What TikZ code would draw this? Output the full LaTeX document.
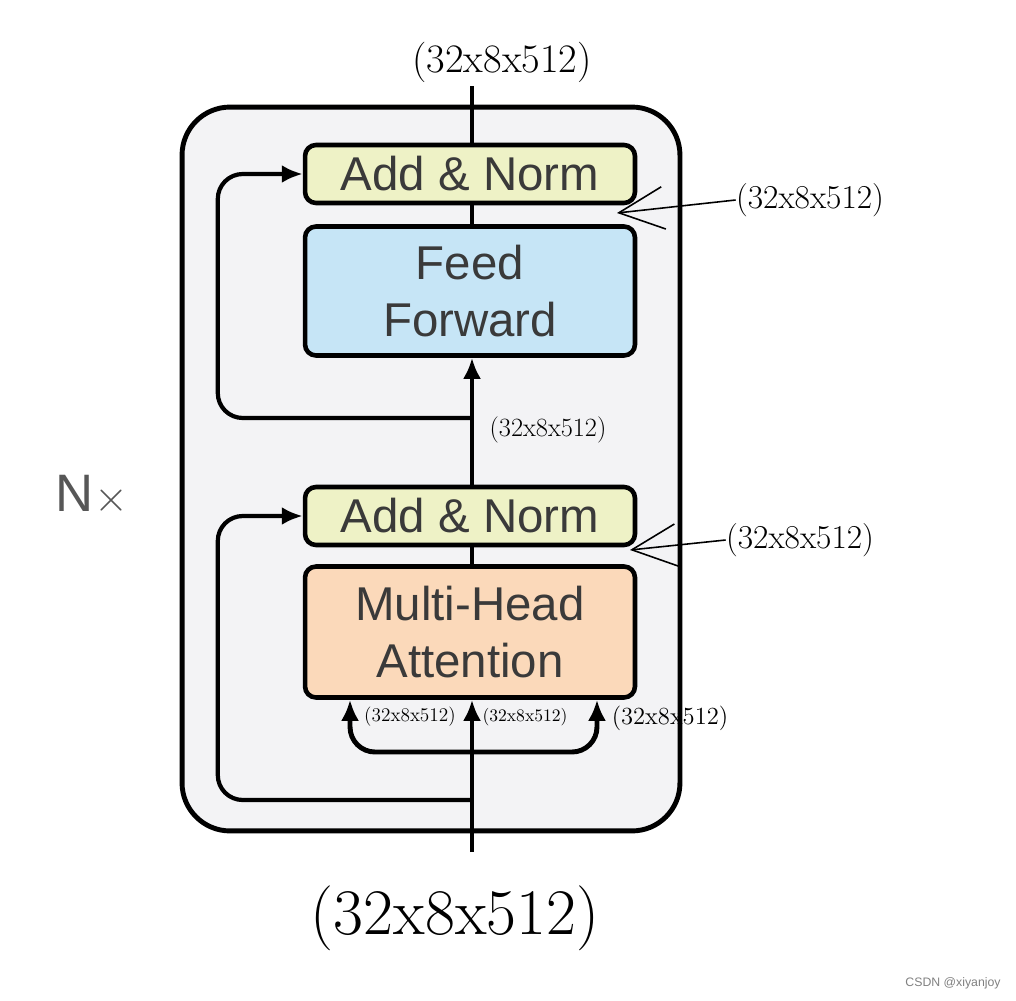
\documentclass[tikz,border=0pt]{standalone}
\usepackage{fontspec}
\newfontfamily\helv{Liberation Sans}
\usepackage{xcolor}
\usetikzlibrary{arrows.meta, calc}

\definecolor{layergray}{RGB}{243,243,245}
\definecolor{normyellow}{RGB}{238,242,198}
\definecolor{ffblue}{RGB}{198,229,246}
\definecolor{mhapeach}{RGB}{251,217,186}
\definecolor{textgray}{RGB}{58,58,58}

\begin{document}
\begin{tikzpicture}[x = 0.02cm, y = -0.02cm,
    block/.style = {draw = black, line width = 2.6pt, rounded corners = 0.22cm, minimum width = 6.6cm, align = center, text = textgray, font = \helv\fontsize{27}{32}\selectfont},
    addnorm/.style = {block, fill = normyellow, minimum height = 1.16cm},
    ffbox/.style = {block, fill = ffblue, minimum height = 2.58cm},
    mhabox/.style = {block, fill = mhapeach, minimum height = 2.62cm},
    mainline/.style = {line width = 2.8pt},
    resline/.style = {line width = 2.4pt, rounded corners = 0.5cm, -{Latex[length = 0.42cm, width = 0.36cm]}},
    dim/.style = {inner sep = 0pt},
    handarrow/.style = {line width = 0.9pt, -{Straight Barb[length = 0.9cm, width = 0.85cm, line width = 0.9pt]}}
]
    \useasboundingbox (0, 0) rectangle (1016, 1000);
    
    % Layer frame
    \node[draw = black, line width = 2.8pt, fill = layergray, rounded corners = 0.96cm, minimum width = 9.96cm, minimum height = 14.48cm] (layer) at (431, 469) {};
    %
    \node[text = textgray!85, font = \helv\fontsize{30}{34}\selectfont] (nx) at (92, 495) {N$\times$};
    
    % Blocks
    \node[addnorm] (an2) at (470, 174) {Add \& Norm};
    %
    \node[ffbox] (ff) at (470, 291) {Feed\\Forward};
    %
    \node[addnorm] (an1) at (470, 516) {Add \& Norm};
    %
    \node[mhabox] (mha) at (470, 632) {Multi-Head\\Attention};
    
    \coordinate (in) at (472, 852);
    \coordinate (out) at (472, 86);
    \coordinate (split) at (472, 752);
    \coordinate (res1) at (472, 800);
    \coordinate (res2) at (472, 418);
    
    % Lines
    \draw[mainline, -{Latex[length = 0.42cm, width = 0.36cm]}] (in) -- (mha.south -| in);
    %
    \draw[mainline, rounded corners = 0.5cm, -{Latex[length = 0.42cm, width = 0.36cm]}] (split) -| ([xshift = -2.4cm]mha.south);
    %
    \draw[mainline, rounded corners = 0.5cm, -{Latex[length = 0.42cm, width = 0.36cm]}] (split) -| ([xshift = 2.54cm]mha.south);
    %
    \draw[mainline] (mha.north -| in) -- (an1.south -| in);
    %
    \draw[mainline, -{Latex[length = 0.42cm, width = 0.36cm]}] (an1.north -| in) -- (ff.south -| in);
    %
    \draw[mainline] (ff.north -| in) -- (an2.south -| in);
    %
    \draw[mainline] (an2.north -| in) -- (out);
    
    \draw[resline] (res1) -| ([xshift = -1.7cm]an1.west) -- (an1.west);
    %
    \draw[resline] (res2) -| ([xshift = -1.7cm]an2.west) -- (an2.west);
    
    % Shapes
    \node[dim, font = \fontsize{23}{26}\selectfont] (dimout) at (502, 62) {(32x8x512)};
    %
    \node[dim, font = \fontsize{37}{40}\selectfont] (dimin) at (455, 918) {(32x8x512)};
    %
    \node[dim, font = \fontsize{19}{22}\selectfont] (dimff) at (810, 200) {(32x8x512)};
    %
    \node[dim, font = \fontsize{19}{22}\selectfont] (dimmha) at (800, 540) {(32x8x512)};
    %
    \node[dim, font = \fontsize{15}{18}\selectfont] (dimmid) at (548, 430) {(32x8x512)};
    %
    \node[dim, font = \fontsize{11}{13}\selectfont] (dimq) at (410, 717) {(32x8x512)};
    %
    \node[dim, font = \fontsize{10}{12}\selectfont] (dimk) at (525, 717) {(32x8x512)};
    %
    \node[dim, font = \fontsize{14}{16}\selectfont] (dimv) at (670, 718) {(32x8x512)};
    
    \coordinate (tipff) at (617, 213);
    \coordinate (tipmha) at (630, 550);
    %
    \draw[handarrow] (dimff.west) -- (tipff);
    %
    \draw[handarrow] (dimmha.west) -- (tipmha);
    
    \node[text = gray, font = \helv\fontsize{7}{8}\selectfont] (mark) at (953, 983) {CSDN @xiyanjoy};
\end{tikzpicture}
\end{document}
